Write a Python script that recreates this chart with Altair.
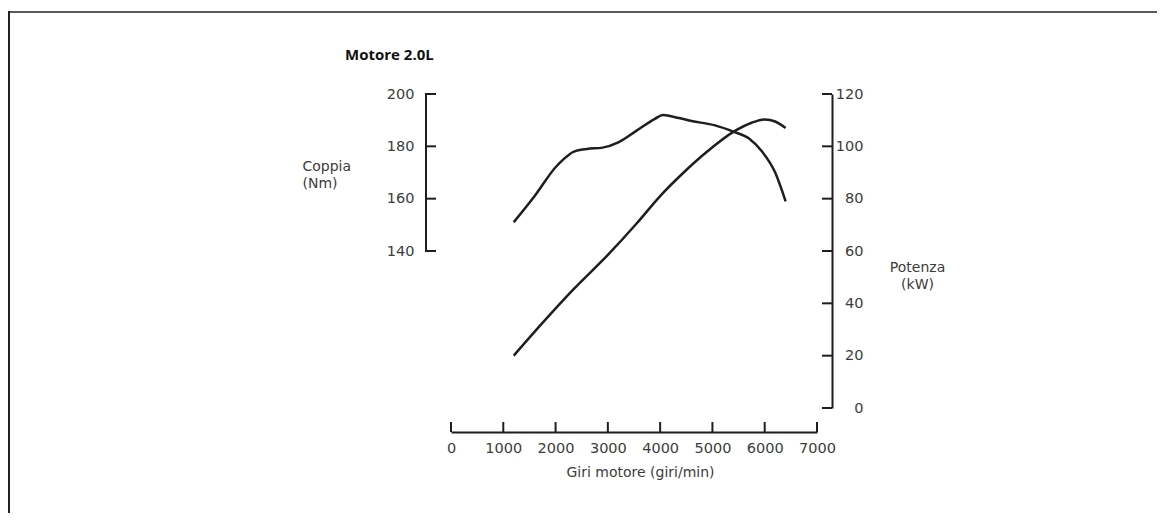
import altair as alt
import pandas as pd

# ---- data ----
torque_rpm = [1200, 1600, 2000, 2150, 2350, 2600, 2900, 3200, 3550, 3900, 4050, 4250, 4600, 5050, 5400, 5700, 5950, 6200, 6400]
torque_nm = [151, 161, 172, 175, 178, 179, 179.5, 181.5, 186, 190.5, 192, 191.3, 189.7, 188, 185.6, 183, 178, 170, 159]

power_rpm = [1200, 1750, 2350, 3000, 3550, 4000, 4450, 4900, 5400, 5750, 6000, 6200, 6400]
power_kw = [20, 32.5, 45.5, 58.5, 70.5, 81, 90, 98, 105.5, 109, 110.3, 109.5, 107]

x_ticks = [0, 1000, 2000, 3000, 4000, 5000, 6000, 7000]
nm_ticks = [140, 160, 180, 200]
kw_ticks = [0, 20, 40, 60, 80, 100, 120]

chart_title = "Motore 2.0L"
x_title = "Giri motore (giri/min)"
nm_title = ["Coppia", "(Nm)"]
kw_title = ["Potenza", "(kW)"]

# ---- styling ----
W, H = 366, 314
FONT = "DejaVu Sans"
FS = 14.5
INK = "#1e1e1e"
TXT = "#3c3c3c"
TICK = 10
OFF_L, OFF_R, OFF_X = 25, 15, 24
LH = 17.5

x_scale = alt.Scale(domain=[0, 7000], nice=False, zero=False)
nm_scale = alt.Scale(domain=[80, 200], nice=False, zero=False)
kw_scale = alt.Scale(domain=[0, 120], nice=False, zero=False)

x_axis = alt.Axis(values=x_ticks, format="d", offset=OFF_X, domain=True, domainColor=INK,
                  domainWidth=2, ticks=False, grid=False, labelPadding=9, labelFont=FONT,
                  labelFontSize=FS, labelColor=TXT, labelFlush=False, title=x_title,
                  titleFont=FONT, titleFontSize=14, titleFontWeight="normal", titleColor=TXT,
                  titleX=189, titleY=44, titleAlign="center", titleBaseline="alphabetic")

nm_axis = alt.Axis(orient="left", values=nm_ticks, offset=OFF_L, domain=False, ticks=False,
                   grid=False, labelPadding=12, labelFont=FONT, labelFontSize=FS,
                   labelColor=TXT, title=nm_title, titleFont=FONT, titleFontSize=14,
                   titleFontWeight="normal", titleColor=TXT, titleAngle=0, titleAlign="left",
                   titleBaseline="alphabetic", titleX=-124, titleY=76, titleLineHeight=LH)

kw_axis = alt.Axis(orient="right", values=kw_ticks, offset=OFF_R, domain=True, domainColor=INK,
                   domainWidth=2, ticks=False, grid=False, labelAlign="right", labelPadding=31,
                   labelFont=FONT, labelFontSize=FS, labelColor=TXT, title=kw_title,
                   titleFont=FONT, titleFontSize=14, titleFontWeight="normal", titleColor=TXT,
                   titleAngle=0, titleAlign="center", titleBaseline="alphabetic",
                   titleX=85, titleY=177, titleLineHeight=LH)

X = alt.X("rpm:Q", scale=x_scale, axis=x_axis)

torque_df = pd.DataFrame({"rpm": torque_rpm, "nm": torque_nm})
power_df = pd.DataFrame({"rpm": power_rpm, "kw": power_kw})

torque_line = alt.Chart(torque_df).mark_line(color=INK, strokeWidth=2.5, interpolate="monotone").encode(
    x=X, y=alt.Y("nm:Q", scale=nm_scale, axis=nm_axis))

nm_domain = alt.Chart(pd.DataFrame({"nm": [nm_ticks[0]], "nm2": [nm_ticks[-1]]})).mark_rule(
    color=INK, strokeWidth=2, strokeCap="square").encode(
    x=alt.value(-OFF_L), y=alt.Y("nm:Q", scale=nm_scale, axis=nm_axis), y2="nm2")

nm_tick_marks = alt.Chart(pd.DataFrame({"nm": nm_ticks})).mark_rule(color=INK, strokeWidth=2).encode(
    x=alt.value(-OFF_L), x2=alt.value(-OFF_L + TICK), y=alt.Y("nm:Q", scale=nm_scale, axis=nm_axis))

nm_group = alt.layer(torque_line, nm_domain, nm_tick_marks)

power_line = alt.Chart(power_df).mark_line(color=INK, strokeWidth=2.5, interpolate="monotone").encode(
    x=X, y=alt.Y("kw:Q", scale=kw_scale, axis=kw_axis))

kw_tick_marks = alt.Chart(pd.DataFrame({"kw": kw_ticks})).mark_rule(color=INK, strokeWidth=2).encode(
    x=alt.value(W + OFF_R - TICK), x2=alt.value(W + OFF_R), y=alt.Y("kw:Q", scale=kw_scale, axis=kw_axis))

kw_group = alt.layer(power_line, kw_tick_marks)

x_tick_marks = alt.Chart(pd.DataFrame({"rpm": x_ticks})).mark_rule(color=INK, strokeWidth=2).encode(
    x=X, y=alt.value(H + OFF_X - TICK), y2=alt.value(H + OFF_X))

title_mark = alt.Chart(pd.DataFrame({"t": [chart_title]})).mark_text(
    align="left", baseline="alphabetic", font="Open Sans", fontSize=15, fontWeight="bold", color="#111").encode(
    x=alt.value(-106), y=alt.value(-34), text="t:N")

frame_df = pd.DataFrame({"k": [0]})
frame_top = alt.Chart(frame_df).mark_rule(color="#5a5a5a", strokeWidth=2).encode(
    x=alt.value(-443), x2=alt.value(W + 400), y=alt.value(-82))
frame_left = alt.Chart(frame_df).mark_rule(color="#222", strokeWidth=2).encode(
    x=alt.value(-442), y=alt.value(-83), y2=alt.value(H + 200))

chart = alt.layer(nm_group, kw_group, x_tick_marks, title_mark, frame_top, frame_left).resolve_scale(
    y="independent").properties(
    width=W, height=H,
    autosize=alt.AutoSizeParams(type="none"),
    padding={"left": 443, "top": 86, "right": 340, "bottom": 105},
    background="white",
).configure_view(stroke=None)

chart.save("out.html", embed_options={"renderer": "svg", "actions": False})
